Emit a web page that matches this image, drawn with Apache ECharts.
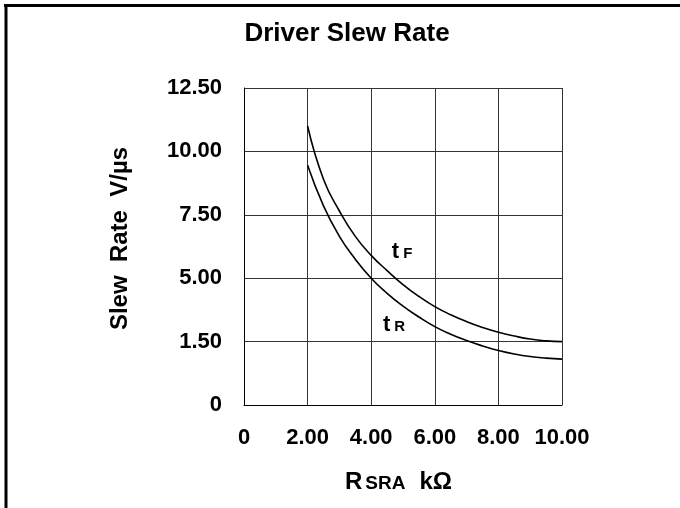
<!DOCTYPE html>
<html>
<head>
<meta charset="utf-8">
<script src="https://cdn.jsdelivr.net/npm/echarts@6/dist/echarts.min.js"></script>
<style>
  html, body { margin: 0; padding: 0; background: #fff; }
  #chart { width: 680px; height: 508px; }
</style>
</head>
<body>
<div id="chart"></div>
<script>
// curve points, every 0.5 kOhm from 2 to 10
const rValues = [2, 2.5, 3, 3.5, 4, 4.5, 5, 5.5, 6, 6.5, 7, 7.5, 8, 8.5, 9, 9.5, 10]
const tF = [11.0, 8.9, 7.65, 6.65, 5.9, 5.3, 4.75, 4.28, 3.88, 3.56, 3.29, 3.06, 2.87, 2.72, 2.6, 2.53, 2.5]
const tR = [9.45, 7.85, 6.65, 5.75, 5.0, 4.4, 3.9, 3.47, 3.09, 2.79, 2.54, 2.33, 2.15, 2.01, 1.91, 1.85, 1.81]
const xTicks = ['0', '2.00', '4.00', '6.00', '8.00', '10.00']
const yTicks = ['0', '1.50', '5.00', '7.50', '10.00', '12.50']  // "1.50" as printed in the original
const tFLabelAt = [4.65, 5.6]
const tRLabelAt = [4.37, 2.71]

const font = '"Liberation Sans", Arial, sans-serif'
const chart = echarts.init(document.getElementById('chart'))

const curveLabel = (sub, at) => ({
  symbol: 'circle',
  symbolSize: 0,
  data: [{ coord: at }],
  label: {
    show: true,
    position: [0, 0],
    align: 'left',
    verticalAlign: 'bottom',
    formatter: '{t|t}{s|' + sub + '}',
    rich: {
      t: { fontFamily: font, fontWeight: 'bold', fontSize: 22, color: '#000', verticalAlign: 'bottom' },
      s: { fontFamily: font, fontWeight: 'bold', fontSize: 15, color: '#000', verticalAlign: 'bottom', padding: [0, 0, 2, 4] }
    }
  }
})

chart.setOption({
  animation: false,
  backgroundColor: '#fff',
  title: {
    text: 'Driver Slew Rate',
    left: 342,
    textAlign: 'center',
    top: 16,
    textStyle: { fontFamily: font, fontWeight: 'bold', fontSize: 26, color: '#000' }
  },
  graphic: [
    { type: 'line', shape: { x1: 4, y1: 5.5, x2: 680, y2: 5.5 }, style: { stroke: '#000', lineWidth: 3 } },
    { type: 'line', shape: { x1: 6, y1: 4, x2: 6, y2: 508 }, style: { stroke: '#000', lineWidth: 3 } }
  ],
  grid: { left: 244, right: 118, top: 88, bottom: 103 },
  xAxis: {
    type: 'value',
    min: 0, max: 10, interval: 2,
    name: '{a|R}{b|SRA}{g| }{a|kΩ}',
    nameLocation: 'middle',
    nameGap: 65,
    nameTextStyle: {
      padding: [0, 9, 0, 0],
      rich: {
        a: { fontFamily: font, fontWeight: 'bold', fontSize: 24, color: '#000', verticalAlign: 'bottom' },
        b: { fontFamily: font, fontWeight: 'bold', fontSize: 19, color: '#000', verticalAlign: 'bottom', padding: [0, 0, 1, 3] },
        g: { fontSize: 24, width: 14 }
      }
    },
    axisLine: { lineStyle: { color: '#000', width: 1 } },
    axisTick: { show: false },
    splitLine: { show: true, lineStyle: { color: '#333', width: 1 } },
    axisLabel: {
      margin: 22,
      fontFamily: font, fontWeight: 'bold', fontSize: 22, color: '#000',
      formatter: v => xTicks[Math.round(v / 2)]
    }
  },
  yAxis: {
    type: 'value',
    min: 0, max: 12.5, interval: 2.5,
    name: 'Slew  Rate  V/µs',
    nameLocation: 'middle',
    nameGap: 112,
    nameTextStyle: { fontFamily: font, fontWeight: 'bold', fontSize: 24, color: '#000', padding: [0, 0, 0, 16] },
    axisLine: { show: true, lineStyle: { color: '#000', width: 1 } },
    axisTick: { show: false },
    splitLine: { show: true, lineStyle: { color: '#333', width: 1 } },
    axisLabel: {
      margin: 22,
      fontFamily: font, fontWeight: 'bold', fontSize: 22, color: '#000',
      formatter: v => yTicks[Math.round(v / 2.5)]
    }
  },
  series: [
    {
      name: 'tF', type: 'line', data: rValues.map((r, i) => [r, tF[i]]), smooth: 0.5, showSymbol: false,
      lineStyle: { color: '#000', width: 1.6 },
      markPoint: curveLabel('F', tFLabelAt)
    },
    {
      name: 'tR', type: 'line', data: rValues.map((r, i) => [r, tR[i]]), smooth: 0.5, showSymbol: false,
      lineStyle: { color: '#000', width: 1.6 },
      markPoint: curveLabel('R', tRLabelAt)
    }
  ]
})
</script>
</body>
</html>
